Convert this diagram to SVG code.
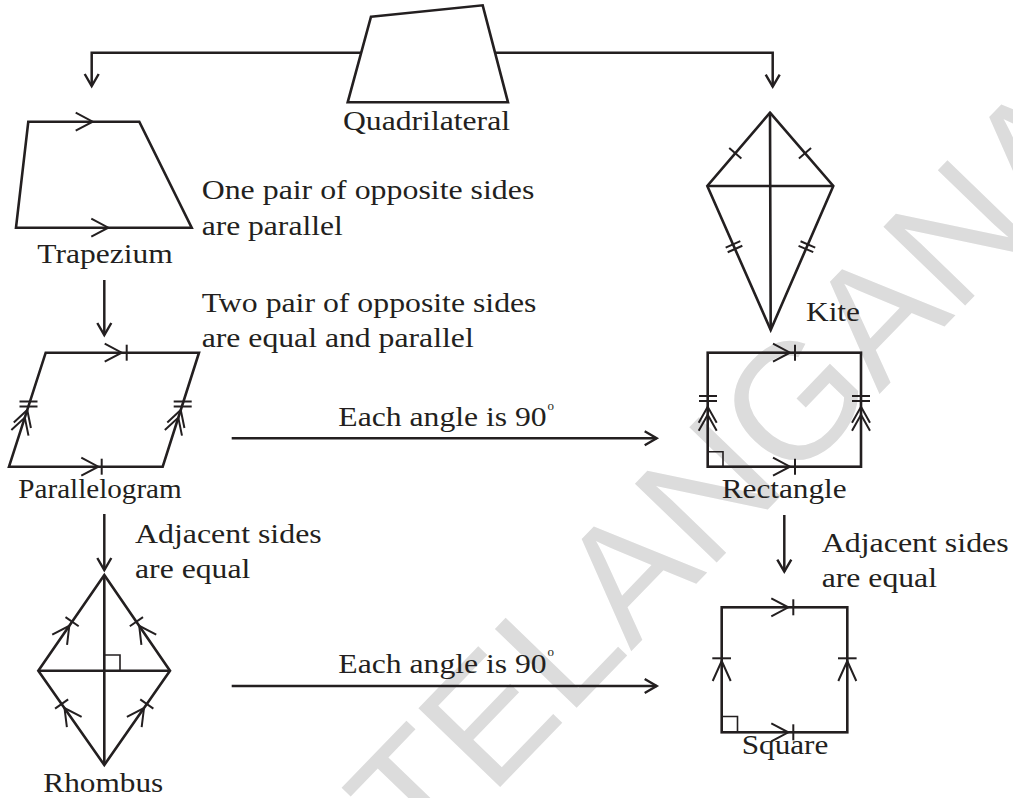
<svg xmlns="http://www.w3.org/2000/svg" xmlns:xlink="http://www.w3.org/1999/xlink" width="1013" height="798" viewBox="0 0 1013 798">
<style>
.s{fill:none;stroke:#231f20;stroke-width:2.6;stroke-linejoin:miter}
.m{fill:none;stroke:#231f20;stroke-width:2}
.c{fill:none;stroke:#231f20;stroke-width:2.5}
.t{font-family:'Liberation Serif',Tinos,'Times New Roman',Times,'Nimbus Roman','Nimbus Roman No9 L',FreeSerif,'Noto Serif','DejaVu Serif',serif;font-size:27px;fill:#231f20}
.deg{font-family:'Liberation Serif',Tinos,'Times New Roman',Times,'Nimbus Roman',FreeSerif,'DejaVu Serif',serif;font-size:13px;fill:#231f20}
.wm{font-family:'Liberation Sans',Arial,sans-serif;font-size:165px;fill:#dcdcdc}
</style>
<defs>
<marker id="arr" markerUnits="userSpaceOnUse" markerWidth="24" markerHeight="24" viewBox="-16 -12 20 24" refX="0" refY="0" orient="auto">
<path d="M-12,-7 L0,0 L-12,7" fill="none" stroke="#231f20" stroke-width="2.4"/>
</marker>
<path id="chev" d="M-17,-9 L0,0 L-17,9" class="m"/>
<path id="chevL" d="M-20,-9 L0,0 L-20,9" class="m"/>
<path id="chev2" d="M-16,-9 L0,0 L-16,9 M-24,-9 L-8,0 L-24,9" class="m"/>
<path id="tick" d="M0,-8 V8" class="m"/>
<path id="tick2" d="M-2.5,-8 V8 M2.5,-8 V8" class="m"/>
</defs>
<rect width="1013" height="798" fill="#ffffff"/>
<text class="wm" transform="translate(420.7,869.2) rotate(-46)">TELANGANA</text>

<g id="connectors">
<path class="c" d="M361,52.7 H91.7 V86" marker-end="url(#arr)"/>
<path class="c" d="M495,52.7 H772.7 V86.7" marker-end="url(#arr)"/>
<path class="c" d="M104.3,280 V335" marker-end="url(#arr)"/>
<path class="c" d="M104.3,514 V570" marker-end="url(#arr)"/>
<path class="c" d="M784.3,515 V571.7" marker-end="url(#arr)"/>
<path class="c" d="M231.7,438.3 H656.7" marker-end="url(#arr)"/>
<path class="c" d="M231.7,686 H656.7" marker-end="url(#arr)"/>
<text class="t" x="201.7" y="199" textLength="332.6" lengthAdjust="spacingAndGlyphs">One pair of opposite sides</text>
<text class="t" x="201.7" y="235" textLength="141" lengthAdjust="spacingAndGlyphs">are parallel</text>
<text class="t" x="201.7" y="311.7" textLength="334.8" lengthAdjust="spacingAndGlyphs">Two pair of opposite sides</text>
<text class="t" x="201.7" y="347" textLength="272" lengthAdjust="spacingAndGlyphs">are equal and parallel</text>
<text class="t" x="135" y="543.3" textLength="186.7" lengthAdjust="spacingAndGlyphs">Adjacent sides</text>
<text class="t" x="135" y="578.3" textLength="115.3" lengthAdjust="spacingAndGlyphs">are equal</text>
<text class="t" x="821.7" y="551.7" textLength="187" lengthAdjust="spacingAndGlyphs">Adjacent sides</text>
<text class="t" x="821.7" y="587.3" textLength="115.3" lengthAdjust="spacingAndGlyphs">are equal</text>
<text class="t" x="338.3" y="426" textLength="208.4" lengthAdjust="spacingAndGlyphs">Each angle is 90</text>
<text class="deg" x="547.5" y="409.5">o</text>
<text class="t" x="338.3" y="672.5" textLength="208.4" lengthAdjust="spacingAndGlyphs">Each angle is 90</text>
<text class="deg" x="547.5" y="656">o</text>
</g>

<g id="quadrilateral">
<polygon class="s" points="371,16.7 482.7,5.3 508,102.3 347.7,102.3"/>
<text class="t" x="343" y="130" textLength="167" lengthAdjust="spacingAndGlyphs">Quadrilateral</text>
</g>

<g id="trapezium">
<polygon class="s" points="28.3,121.7 139.3,121.7 191.7,227.7 16,227.7"/>
<use xlink:href="#chev" transform="translate(92.7,121.7)"/>
<use xlink:href="#chev" transform="translate(108.3,227.7)"/>
<text class="t" x="37.3" y="263.3" textLength="135.4" lengthAdjust="spacingAndGlyphs">Trapezium</text>
</g>

<g id="parallelogram">
<polygon class="s" points="45.7,352.7 199,352.7 162.7,466.7 9,466.7"/>
<use xlink:href="#chev" transform="translate(121.7,352.7)"/>
<use xlink:href="#tick" transform="translate(126.7,352.7)"/>
<use xlink:href="#chev" transform="translate(98.3,466.7)"/>
<use xlink:href="#tick" transform="translate(101.7,466.7)"/>
<path class="m" d="M19.5,401.5 H37.5 M19.5,406.5 H37.5"/>
<use xlink:href="#chev2" transform="translate(27.25,410) rotate(-72.2)"/>
<path class="m" d="M173.7,401.5 H191.7 M173.7,406.5 H191.7"/>
<use xlink:href="#chev2" transform="translate(180.75,410) rotate(-72.2)"/>
<text class="t" x="18.3" y="498.3" textLength="163.4" lengthAdjust="spacingAndGlyphs">Parallelogram</text>
</g>

<g id="rhombus">
<polygon class="s" points="104.3,575 170,670.7 104.3,765 38.3,670.7"/>
<path class="s" d="M104.3,575 V765 M38.3,670.7 H170"/>
<path class="m" style="stroke-width:1.6" d="M104.3,655 H120 V670.7"/>
<use xlink:href="#tick" transform="translate(72.1,621.7) rotate(-55.4)"/>
<use xlink:href="#chev" transform="translate(69.3,625.8) rotate(-55.4)"/>
<use xlink:href="#tick" transform="translate(136.4,621.7) rotate(-124.5)"/>
<use xlink:href="#chev" transform="translate(139.2,625.8) rotate(-124.5)"/>
<use xlink:href="#tick" transform="translate(61.6,704) rotate(-125)"/>
<use xlink:href="#chev" transform="translate(64.5,708.1) rotate(-125)"/>
<use xlink:href="#tick" transform="translate(146.8,704) rotate(-55.1)"/>
<use xlink:href="#chev" transform="translate(144,708.1) rotate(-55.1)"/>
<text class="t" x="43.3" y="791.7" textLength="120" lengthAdjust="spacingAndGlyphs">Rhombus</text>
</g>

<g id="kite">
<polygon class="s" points="770,112.7 833.3,186 770.7,330 707.3,186"/>
<path class="s" d="M770,112.7 L770.7,330 M707.3,186 H833.3"/>
<use xlink:href="#tick" transform="translate(735.3,153.3) rotate(-49.5)"/>
<use xlink:href="#tick" transform="translate(805,153.3) rotate(49.2)"/>
<use xlink:href="#tick2" transform="translate(734,246.7) rotate(66.2)"/>
<use xlink:href="#tick2" transform="translate(806.9,246.7) rotate(113.5)"/>
<text class="t" x="806" y="320.5" textLength="54" lengthAdjust="spacingAndGlyphs">Kite</text>
</g>

<g id="rectangle">
<rect class="s" x="707.7" y="352.7" width="153.3" height="114"/>
<path class="m" style="stroke-width:1.6" d="M707.7,451.7 H723 V466.7"/>
<use xlink:href="#chev" transform="translate(790,352.7)"/>
<use xlink:href="#tick" transform="translate(795,352.7)"/>
<use xlink:href="#chev" transform="translate(790,466.7)"/>
<use xlink:href="#tick" transform="translate(795,466.7)"/>
<path class="m" d="M699,396 H717 M699,401 H717"/>
<use xlink:href="#chev2" transform="translate(707.7,406.7) rotate(-90)"/>
<path class="m" d="M852,396 H870 M852,401 H870"/>
<use xlink:href="#chev2" transform="translate(861,406.7) rotate(-90)"/>
<text class="t" x="721.7" y="497.5" textLength="125" lengthAdjust="spacingAndGlyphs">Rectangle</text>
</g>

<g id="square">
<rect class="s" x="721.7" y="607.3" width="125.6" height="125"/>
<path class="m" style="stroke-width:1.6" d="M721.7,716.5 H737.5 V732.3"/>
<use xlink:href="#chev" transform="translate(788.3,607.3)"/>
<use xlink:href="#tick" transform="translate(793.3,607.3)"/>
<use xlink:href="#chev" transform="translate(788.3,732.3)"/>
<use xlink:href="#tick" transform="translate(793.3,732.3)"/>
<path class="m" d="M712.3,658.3 H731"/>
<use xlink:href="#chevL" transform="translate(721.7,661) rotate(-90)"/>
<path class="m" d="M838,658.3 H856.6"/>
<use xlink:href="#chevL" transform="translate(847.3,661) rotate(-90)"/>
<text class="t" x="741.7" y="754" textLength="86.7" lengthAdjust="spacingAndGlyphs">Square</text>
</g>
</svg>
